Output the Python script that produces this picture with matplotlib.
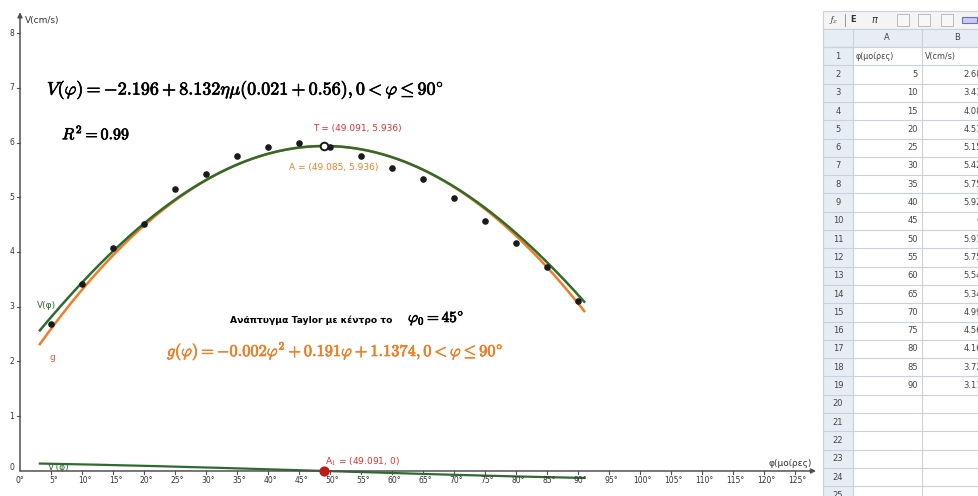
import numpy as np
import matplotlib.pyplot as plt
import matplotlib.patheffects as pe
from matplotlib.patches import Rectangle

plt.rcParams['mathtext.fontset'] = 'cm'
plt.rcParams['font.family'] = ['DejaVu Sans']

# spreadsheet data (angle in degrees, speed in cm/s)
phi = [5, 10, 15, 20, 25, 30, 35, 40, 45, 50, 55, 60, 65, 70, 75, 80, 85, 90]
vel = [2.68, 3.41, 4.08, 4.51, 5.15, 5.42, 5.75, 5.92, 6, 5.91, 5.75, 5.54,
       5.34, 4.99, 4.56, 4.16, 3.72, 3.11]
vel_txt = ['2.68', '3.41', '4.08', '4.51', '5.15', '5.42', '5.75', '5.92', '6',
           '5.91', '5.75', '5.54', '5.34', '4.99', '4.56', '4.16', '3.72', '3.11']

# sine fit V(phi) = c0 + c1*sin(k*phi + ph), Taylor centre phi0
c0, c1, k, ph = -2.196, 8.132, 0.02059, 0.56
phi0 = 45
dom = (3.2, 91)
T = (49.091, 5.936)
A = (49.085, 5.936)
A1 = (49.091, 0)

xticks = list(range(5, 130, 5))
yticks = [1, 2, 3, 4, 5, 6, 7, 8]

GREEN = '#2f6b2f'
ORANGE = '#f07d24'
RED = '#e03030'

x = np.linspace(dom[0], dom[1], 400)
V = c0 + c1 * np.sin(k * x + ph)
dV = c1 * k * np.cos(k * x + ph)
# second order Taylor polynomial of V round phi0
v0 = c0 + c1 * np.sin(k * phi0 + ph)
v1 = c1 * k * np.cos(k * phi0 + ph)
v2 = -c1 * k ** 2 * np.sin(k * phi0 + ph)
g = v0 + v1 * (x - phi0) + v2 / 2 * (x - phi0) ** 2

fig = plt.figure(figsize=(9.79, 4.96), dpi=100)
W, H = 979, 496


def fpos(px, py):
    return px / W, 1 - py / H


ax = fig.add_axes([0, 0, 822 / W, 1])
ax.set_xlim(-3.226, 129.35)
ax.set_ylim(-0.457, 8.603)
ax.axis('off')

# axes with arrows
ax.annotate('', xy=(128.4, 0), xytext=(0, 0),
            arrowprops=dict(arrowstyle='-|>', color='#505050', lw=1.1,
                            mutation_scale=7, shrinkA=0, shrinkB=0))
ax.annotate('', xy=(0, 8.38), xytext=(0, 0),
            arrowprops=dict(arrowstyle='-|>', color='#505050', lw=1.1,
                            mutation_scale=7, shrinkA=0, shrinkB=0))
for t in xticks:
    ax.plot([t, t], [0, -0.06], color='#505050', lw=0.8)
    ax.text(t + 0.4, -0.17, f'{t}°', fontsize=5.5, color='#333333',
            ha='center', va='center')
ax.text(0, -0.17, '0°', fontsize=5.5, color='#333333', ha='center', va='center')
for t in yticks:
    ax.plot([0, -0.45], [t, t], color='#505050', lw=0.8)
    ax.text(-1.3, t, str(t), fontsize=5.5, color='#333333',
            ha='center', va='center')
ax.text(-1.3, 0.07, '0', fontsize=5.5, color='#333333', ha='center', va='center')

ax.plot(x, dV, color=GREEN, lw=1.6)
ax.plot(x, g, color=ORANGE, lw=1.8)
ax.plot(x, V, color=GREEN, lw=1.8)
ax.scatter(phi, vel, s=14, color='#1a1a1a', zorder=5)
ax.scatter([T[0]], [T[1]], s=30, facecolor='white', edgecolor='#1a1a1a',
           linewidth=1.4, zorder=6)
ax.scatter([A1[0]], [A1[1]], s=40, color='#c01818', zorder=6)


def label(px, py, s, size, color='black', bold=False, **kw):
    t = fig.text(*fpos(px, py), s, fontsize=size, color=color, va='center', **kw)
    if bold:
        t.set_path_effects([pe.withStroke(linewidth=0.5, foreground=color)])
    return t


label(47, 90, r'$V(\varphi) = -2.196 + 8.132\eta\mu(0.021 + 0.56), 0 < \varphi \leq 90^{\circ}$',
      13, bold=True)
label(62, 133, r'$R^2 = 0.99$', 11.5, bold=True)
label(313, 128, 'T = (49.091, 5.936)', 6.5, RED)
label(289, 168, 'A = (49.085, 5.936)', 6.5, ORANGE)
label(325, 462, r'A$_1$ = (49.091, 0)', 6.5, RED)
label(230, 320, 'Ανάπτυγμα Taylor με κέντρο το', 6.6, weight='bold')
label(408, 318, r'$\varphi_0 = 45^{\circ}$', 11, bold=True)
label(167, 351, r'$g(\varphi) = -0.002\varphi^2 + 0.191\varphi + 1.1374, 0 < \varphi \leq 90^{\circ}$',
      11.8, ORANGE, bold=True)
label(37, 306, 'V(φ)', 6.5, GREEN)
label(50, 357, 'g', 6.5, '#e0553a')
label(48, 467, "V'(φ)", 6.5, GREEN)
label(25, 20, 'V(cm/s)', 6.5, '#333333')
label(812, 463, 'φ(μοίρες)', 6.5, '#333333', ha='right')

# spreadsheet view
sx = fig.add_axes([822 / W, 0, 157 / W, 1])
sx.set_xlim(822, 979)
sx.set_ylim(496, 0)
sx.axis('off')
grid = '#c9d1dc'
hdr = '#e7edf5'
row_h = 18.3
top = 47
sx.add_patch(Rectangle((823, 11), 160, 18, facecolor='#f4f4f4', edgecolor=grid, lw=0.8))
sx.add_patch(Rectangle((823, 29), 160, 18, facecolor=hdr, edgecolor=grid, lw=0.8))
sx.add_patch(Rectangle((823, 47), 30, 460, facecolor=hdr, edgecolor=grid, lw=0.8))
for n in range(26):
    y = top + n * row_h
    sx.plot([823, 979], [y, y], color=grid, lw=0.8)
for xc in [823, 853, 922]:
    sx.plot([xc, xc], [29, 496], color=grid, lw=0.8)
sx.text(833, 20, r'$f_x$', fontsize=7, ha='center', va='center', color='#333333')
sx.plot([845, 845], [14, 26], color='#999999', lw=0.7)
sx.text(853, 20, 'E', fontsize=6, ha='center', va='center', color='#333333', weight='bold')
sx.text(874, 20, 'π', fontsize=7, ha='center', va='center', color='#333333', style='italic')
for xc in [897, 918, 941]:
    sx.add_patch(Rectangle((xc, 14), 12, 12, facecolor='#f7f7f7', edgecolor='#bbbbbb', lw=0.7))
sx.add_patch(Rectangle((962, 17), 15, 6, facecolor='#c9ccf0', edgecolor='#6a70c0', lw=0.8))
sx.text(887, 38, 'A', fontsize=6, ha='center', va='center', color='#444444')
sx.text(957, 38, 'B', fontsize=6, ha='center', va='center', color='#444444')
for n in range(1, 26):
    yc = top + (n - 0.5) * row_h
    sx.text(838, yc, str(n), fontsize=6, ha='center', va='center', color='#444444',
            clip_on=True)
sx.text(856, top + 0.5 * row_h, 'φ(μοίρες)', fontsize=5.8, ha='left', va='center',
        color='#444444')
sx.text(925, top + 0.5 * row_h, 'V(cm/s)', fontsize=5.8, ha='left', va='center',
        color='#444444')
for i, (p, vt) in enumerate(zip(phi, vel_txt)):
    yc = top + (i + 1.5) * row_h
    sx.text(918, yc, str(p), fontsize=6, ha='right', va='center', color='#444444')
    sx.text(982, yc, vt, fontsize=6, ha='right', va='center', color='#444444',
            clip_on=True)

fig.savefig('out.png', dpi=100)
